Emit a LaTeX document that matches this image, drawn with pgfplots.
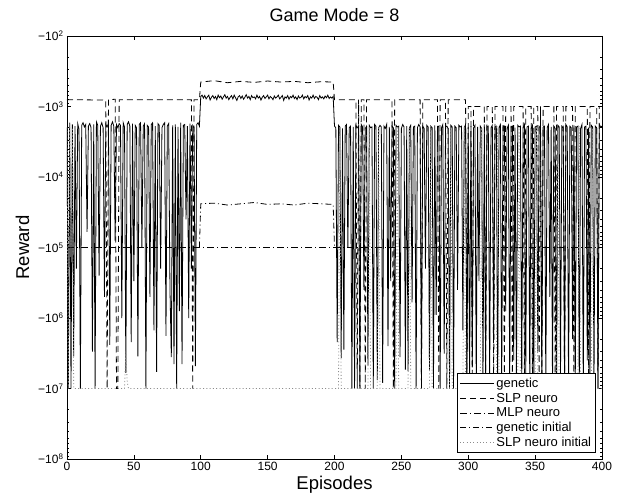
\documentclass[border=0pt]{standalone}
\usepackage{fontspec}
\setmainfont{Liberation Sans}
\usepackage{pgfplots}
\pgfplotsset{compat=1.18}

\begin{document}
\begin{tikzpicture}
\useasboundingbox (-67pt,-38pt) rectangle (552pt,459pt);
\begin{axis}[
  scale only axis,
  width=535pt, height=423pt,
  xmin=0, xmax=400,
  ymode=log, y dir=reverse,
  ymin=1e2, ymax=1e8,
  xtick={0,50,...,400},
  ytick={1e2,1e3,1e4,1e5,1e6,1e7,1e8},
  yticklabels={{−10\textsuperscript{2}},{−10\textsuperscript{3}},{−10\textsuperscript{4}},{−10\textsuperscript{5}},{−10\textsuperscript{6}},{−10\textsuperscript{7}},{−10\textsuperscript{8}}},
  minor ytick={2e2,3e2,4e2,5e2,6e2,7e2,8e2,9e2,2e3,3e3,4e3,5e3,6e3,7e3,8e3,9e3,2e4,3e4,4e4,5e4,6e4,7e4,8e4,9e4,2e5,3e5,4e5,5e5,6e5,7e5,8e5,9e5,2e6,3e6,4e6,5e6,6e6,7e6,8e6,9e6,2e7,3e7,4e7,5e7,6e7,7e7,8e7,9e7},
  tick align=inside,
  major tick length=4.5pt, minor tick length=2.5pt,
  tick style={line width=0.5pt, black},
  axis line style={line width=0.9pt},
  /pgf/number format/assume math mode=true,
  tick label style={font=\fontsize{12}{13}\selectfont},
  title={Game Mode = 8},
  title style={font=\fontsize{18}{20}\selectfont, at={(axis description cs:0.5,1.02)}, anchor=base},
  xlabel={Episodes},
  xlabel style={font=\fontsize{18.5}{20}\selectfont, at={(axis description cs:0.5,-0.0615)}, anchor=center},
  ylabel={Reward},
  ylabel style={font=\fontsize{18.5}{20}\selectfont, at={(axis description cs:-0.083,0.5)}, anchor=center},
  legend image code/.code={\draw[#1] (0pt,0pt) -- (34pt,0pt);},
  legend cell align=left,
  legend style={at={(axis description cs:0.989,0.014)}, anchor=south east,
    font=\fontsize{13}{14.5}\selectfont, draw=black, line width=0.9pt, fill=white,
    row sep=0pt, inner sep=2.5pt},
  every axis plot/.append style={line width=0.8pt},
]

% genetic
\addplot[black, solid] coordinates {
(0,2000)(1,1e7)(2,1700)(3,1e7)(4,1800)(5,3.5e6)(6,1900)(7,2e5)(8,1750)(9,2100)
(10,1e7)(11,1850)(12,1700)(13,1950)(14,1800)(15,6e4)(16,1900)(17,1750)(18,2000)(19,3e6)
(20,1800)(21,1e7)(22,1650)(23,1850)(24,2.5e5)(25,1900)(26,1700)(27,2000)(28,5e5)(29,1800)
(30,1950)(31,1750)(32,2.4e6)(33,1850)(34,1650)(35,1900)(36,8e4)(37,1800)(38,2000)(39,1750)
(40,1850)(41,1e6)(42,1700)(43,1950)(44,6e6)(45,1800)(46,1650)(47,1900)(48,2.2e6)(49,1750)
(50,3e5)(51,1850)(52,2000)(53,3.5e6)(54,1800)(55,1700)(56,1e5)(57,1900)(58,1750)(59,1e7)
(60,1850)(61,1950)(62,5e5)(63,1800)(64,1700)(65,1.5e6)(66,1900)(67,5.8e6)(68,1750)(69,1850)
(70,2e5)(71,2000)(72,1800)(73,1700)(74,1.8e6)(75,1900)(76,1750)(77,4e5)(78,3.6e6)(79,1850)
(80,4.5e6)(81,1800)(82,1e7)(83,1950)(84,8e5)(85,1700)(86,4.5e6)(87,1850)(88,1800)(89,4e4)
(90,1900)(91,1e6)(92,1750)(93,2e5)(94,1850)(95,2000)(96,4.8e6)(97,1800)(98,1700)(99,1900)
(100,720)(101,690)(102,760)(103,700)(104,780)(105,730)(106,690)(107,810)(108,740)(109,700)
(110,770)(111,720)(112,800)(113,690)(114,750)(115,710)(116,790)(117,730)(118,680)(119,760)
(120,720)(121,800)(122,740)(123,700)(124,780)(125,690)(126,750)(127,820)(128,730)(129,700)
(130,770)(131,710)(132,790)(133,740)(134,680)(135,760)(136,720)(137,800)(138,700)(139,750)
(140,730)(141,780)(142,690)(143,760)(144,720)(145,810)(146,740)(147,700)(148,770)(149,730)
(150,690)(151,780)(152,720)(153,750)(154,800)(155,710)(156,760)(157,730)(158,690)(159,780)
(160,740)(161,700)(162,820)(163,730)(164,760)(165,700)(166,790)(167,720)(168,750)(169,690)
(170,770)(171,730)(172,800)(173,710)(174,760)(175,740)(176,690)(177,780)(178,720)(179,750)
(180,700)(181,810)(182,730)(183,760)(184,690)(185,770)(186,720)(187,740)(188,800)(189,700)
(190,760)(191,730)(192,780)(193,710)(194,750)(195,690)(196,770)(197,730)(198,760)(199,720)
(200,1900)(201,2000)(202,2.2e6)(203,1850)(204,1950)(205,3.7e6)(206,2050)(207,2.8e6)(208,1900)(209,1800)
(210,1e5)(211,2000)(212,1900)(213,1e7)(214,1950)(215,1e7)(216,1850)(217,2000)(218,1900)(219,1e7)
(220,1800)(221,1950)(222,4e5)(223,2050)(224,1900)(225,4.7e6)(226,1850)(227,2000)(228,1950)(229,1e7)
(230,1800)(231,1900)(232,7.6e6)(233,2000)(234,1850)(235,1950)(236,8.3e6)(237,1900)(238,2050)(239,1800)
(240,2.5e6)(241,1950)(242,3e5)(243,1900)(244,2000)(245,1e7)(246,1850)(247,1950)(248,1900)(249,3.6e6)
(250,2050)(251,1800)(252,1950)(253,5.4e6)(254,1900)(255,5.6e6)(256,2000)(257,1850)(258,6e5)(259,1950)
(260,1900)(261,1e7)(262,2000)(263,1800)(264,1950)(265,7.4e6)(266,1900)(267,2050)(268,2e5)(269,1850)
(270,1950)(271,5.4e6)(272,1900)(273,2000)(274,1e7)(275,1850)(276,9e5)(277,1950)(278,1900)(279,1e7)
(280,2000)(281,1800)(282,3.2e6)(283,1950)(284,1900)(285,2050)(286,1e7)(287,1850)(288,1950)(289,1e7)
(290,1900)(291,2000)(292,4e5)(293,1850)(294,1950)(295,1900)(296,1.5e6)(297,2000)(298,1800)(299,1e7)
(300,1950)(301,1e7)(302,1900)(303,5e6)(304,2000)(305,1850)(306,1e7)(307,1950)(308,3e5)(309,1900)
(310,2050)(311,1e7)(312,1800)(313,6e6)(314,1950)(315,1900)(316,1e7)(317,2000)(318,1850)(319,2e6)
(320,1950)(321,1900)(322,1e7)(323,2000)(324,1800)(325,1e7)(326,1950)(327,1900)(328,8e5)(329,2050)
(330,1850)(331,1e7)(332,1950)(333,1900)(334,4e6)(335,2000)(336,1e7)(337,1850)(338,1950)(339,1900)
(340,1e7)(341,2000)(342,1800)(343,7e6)(344,1950)(345,1900)(346,1e7)(347,2050)(348,1850)(349,1e7)
(350,1950)(351,1900)(352,3e6)(353,2000)(354,1850)(355,1e7)(356,1950)(357,1900)(358,1e7)(359,2000)
(360,1800)(361,5e5)(362,1950)(363,1e7)(364,1900)(365,2050)(366,1e7)(367,1850)(368,1950)(369,6e6)
(370,1900)(371,2000)(372,1e7)(373,1800)(374,1950)(375,1e7)(376,1900)(377,2000)(378,2e6)(379,1850)
(380,1e7)(381,1950)(382,1900)(383,1e7)(384,2050)(385,1800)(386,1e7)(387,1950)(388,1900)(389,4e6)
(390,2000)(391,1e7)(392,1850)(393,1950)(394,1e7)(395,1900)(396,2000)(397,1e7)(398,1800)(399,1950)
(400,1900)
};
\addlegendentry{genetic}

% SLP neuro
\addplot[black, dash pattern=on 6pt off 4pt] coordinates {
(0,800)(29,810)(30,1e7)(31,800)(36,790)(37,1e7)(38,1e7)(39,800)(93,800)(94,1e7)(95,800)(99,800)
(100,450)(110,430)(120,460)(130,440)(140,455)(150,435)(160,450)(170,440)(180,460)(190,445)(199,450)
(200,800)(216,800)(217,1e7)(218,800)(219,1e7)(220,800)(222,800)(223,1e7)(224,800)(243,800)(244,1e7)(245,800)
(264,800)(265,1e7)(266,800)(277,800)(278,1e7)(279,800)(283,800)(284,1e7)(285,800)(298,800)(299,1e7)
(300,1000)(302,1000)(303,1e7)(304,1000)(312,1000)(313,1e7)(314,1000)(318,1000)(319,1e7)(320,1000)
(326,1000)(327,1e7)(328,1000)(332,1000)(333,1e7)(334,1000)(341,1000)(342,1e7)(343,1000)
(347,1000)(348,1e7)(349,1000)(352,1000)(353,1e7)(354,1000)(355,1e7)(356,1000)(364,1000)(365,1e7)(366,1000)
(371,1000)(372,1e7)(373,1000)(378,1000)(379,1e7)(380,1000)(389,1000)(390,1e7)(391,1000)(396,1000)(397,1e7)(398,1000)(400,1000)
};
\addlegendentry{SLP neuro}

% MLP neuro
\addplot[black, dash pattern=on 7pt off 3pt on 1pt off 3pt] coordinates {
(0,1e5)(100,1e5)(200,1e5)(300,1e5)(400,1e5)
};
\addlegendentry{MLP neuro}

% genetic initial
\addplot[black, dash pattern=on 6pt off 3pt on 1pt off 3pt] coordinates {
(99,1e5)(100,24000)(110,23500)(120,25000)(130,24000)(140,23000)(150,24500)(160,24000)(170,25000)(180,23500)(190,24000)(199,24500)(200,1e5)
};
\addlegendentry{genetic initial}

% SLP neuro initial
\addplot[black!45, dash pattern=on 1pt off 2.3pt] coordinates {
(0,2000)(1,1e7)(2,1800)(3,1e5)(4,2000)(5,1e7)(43,1e7)(44,3e6)(45,8e6)(46,1e7)
(203,1e7)(204,2000)(205,1e7)(225,1e7)(226,1900)(227,1e7)(232,1e7)(233,2000)(234,1e7)
(246,1e7)(247,1900)(248,1e7)(255,1e7)(256,2000)(257,1e7)(271,1e7)(272,1900)(273,1e7)
(286,1e7)(287,2000)(288,1e7)(296,1e7)(297,1900)(298,1e7)(309,1e7)(310,2000)(311,1e7)
(321,1e7)(322,1900)(323,1e7)(337,1e7)(338,2000)(339,1e7)(350,1e7)(351,1900)(352,1e7)
(366,1e7)(367,2000)(368,1e7)(382,1e7)(383,1900)(384,1e7)(392,1e7)(393,2000)(394,1e7)(400,1e7)
};
\addlegendentry{SLP neuro initial}

\end{axis}
\end{tikzpicture}
\end{document}
